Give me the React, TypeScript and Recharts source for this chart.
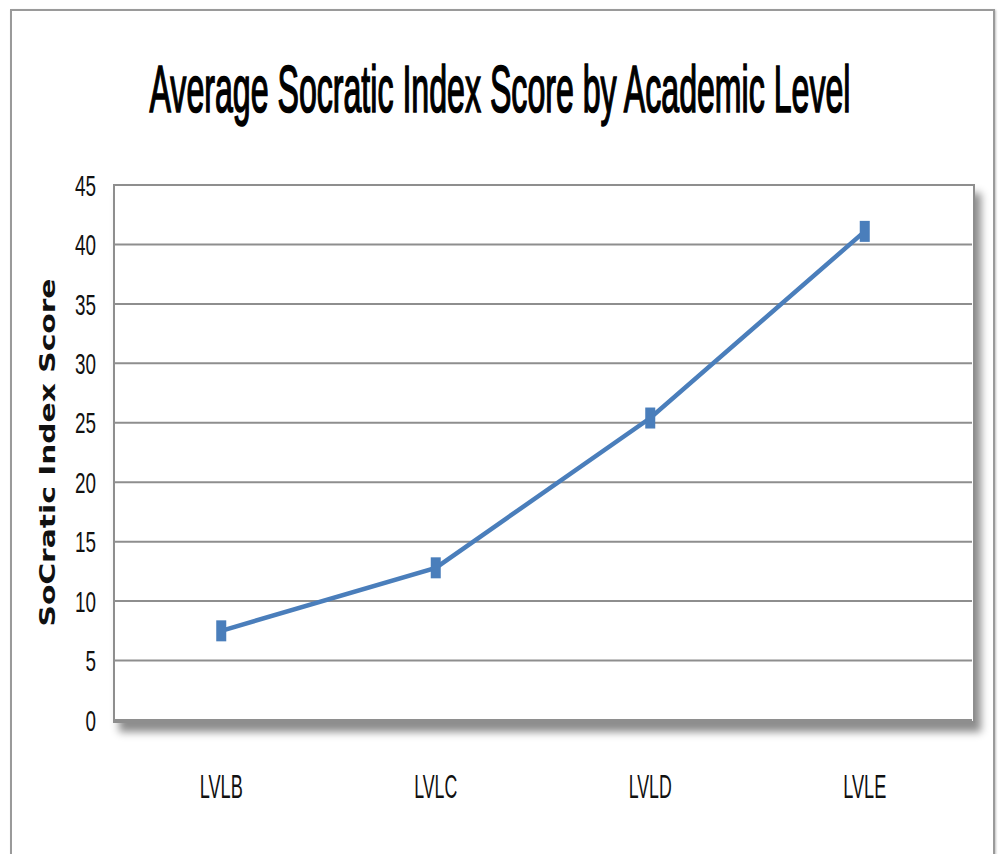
import React from "react";
import { LineChart, Line, XAxis, YAxis, CartesianGrid } from "recharts";

const categories = ["LVLB", "LVLC", "LVLD", "LVLE"];
const scores = [7.5, 12.8, 25.4, 41.1];
const yTicks = [0, 5, 10, 15, 20, 25, 30, 35, 40, 45];

const data = categories.map((c, i) => ({ level: c, score: scores[i] }));

const LINE_COLOR = "#4a7ebb";
const GRID_COLOR = "#8e8e8e";

const YTick = (props: any) => {
  const { x, y, payload } = props;
  const s = String(payload.value);
  return (
    <text
      x={x}
      y={y}
      dy="0.355em"
      textAnchor="end"
      fontFamily="Liberation Sans, Arial, sans-serif"
      fontSize={30}
      fill="#111"
      textLength={s.length * 10.5}
      lengthAdjust="spacingAndGlyphs"
    >
      {s}
    </text>
  );
};

const XTick = (props: any) => {
  const { x, y, payload } = props;
  const s = String(payload.value);
  return (
    <text
      x={x}
      y={y}
      dy="0.71em"
      textAnchor="middle"
      fontFamily="Liberation Sans, Arial, sans-serif"
      fontSize={34}
      fill="#111"
      textLength={s.length * 10.75}
      lengthAdjust="spacingAndGlyphs"
    >
      {s}
    </text>
  );
};

const YLabel = (props: any) => {
  const { viewBox } = props;
  const cx = viewBox.x + 14;
  const cy = viewBox.y + viewBox.height / 2;
  return (
    <text
      x={cx}
      y={cy}
      transform={`rotate(-90, ${cx}, ${cy})`}
      textAnchor="middle"
      dominantBaseline="central"
      fontFamily="DejaVu Sans, Verdana, sans-serif"
      fontWeight="bold"
      fontSize={21}
      fill="#111"
      textLength={348}
      lengthAdjust="spacingAndGlyphs"
    >
      SoCratic Index Score
    </text>
  );
};

const SquareDot = (props: any) => {
  const { cx, cy } = props;
  if (cx == null || cy == null) return null;
  return <rect x={cx - 5} y={cy - 10.5} width={10} height={21} fill={LINE_COLOR} />;
};

export default function App() {
  return (
    <div
      style={{
        position: "absolute",
        left: 0,
        top: 0,
        width: 1000,
        height: 854,
        background: "#fff",
        overflow: "hidden",
      }}
    >
      {/* outer frame */}
      <div
        style={{
          position: "absolute",
          left: 10,
          top: 9,
          width: 981,
          height: 900,
          border: "2px solid #9a9a9a",
          boxShadow: "1px 1px 2px rgba(0,0,0,0.25)",
        }}
      />
      {/* plot area with shadow */}
      <div
        style={{
          position: "absolute",
          left: 113,
          top: 184,
          width: 858,
          height: 535,
          border: `2px solid ${GRID_COLOR}`,
          background: "#fff",
          boxShadow: "6px 9px 8px rgba(0,0,0,0.45)",
        }}
      />
      {/* title */}
      <svg
        width={1000}
        height={180}
        style={{ position: "absolute", left: 0, top: 0 }}
      >
        <g transform="translate(500,112) scale(1,2.35)">
          <text
            x={0}
            y={0}
            textAnchor="middle"
            fontFamily="Liberation Sans, Arial, sans-serif"
            fontSize={28}
            fill="#000"
            stroke="#000"
            strokeWidth={1.3}
            vectorEffect="non-scaling-stroke"
            textLength={701}
            lengthAdjust="spacingAndGlyphs"
          >
            Average Socratic Index Score by Academic Level
          </text>
        </g>
      </svg>
      <div style={{ position: "absolute", left: 0, top: 0 }}>
        <LineChart
          width={1000}
          height={854}
          data={data}
          margin={{ top: 185, right: 28, bottom: 54, left: 34 }}
        >
          <CartesianGrid
            vertical={false}
            stroke={GRID_COLOR}
            strokeWidth={2}
          />
          <XAxis
            dataKey="level"
            scale="band"
            axisLine={false}
            tickLine={false}
            tickSize={0}
            tickMargin={54}
            height={80}
            tick={<XTick />}
            interval={0}
          />
          <YAxis
            domain={[0, 45]}
            ticks={yTicks}
            axisLine={false}
            tickLine={false}
            tickSize={0}
            tickMargin={18}
            width={80}
            tick={<YTick />}
            interval={0}
            label={<YLabel />}
          />
          <Line
            type="linear"
            dataKey="score"
            stroke={LINE_COLOR}
            strokeWidth={4.5}
            dot={<SquareDot />}
            activeDot={false}
            isAnimationActive={false}
          />
        </LineChart>
      </div>
    </div>
  );
}
